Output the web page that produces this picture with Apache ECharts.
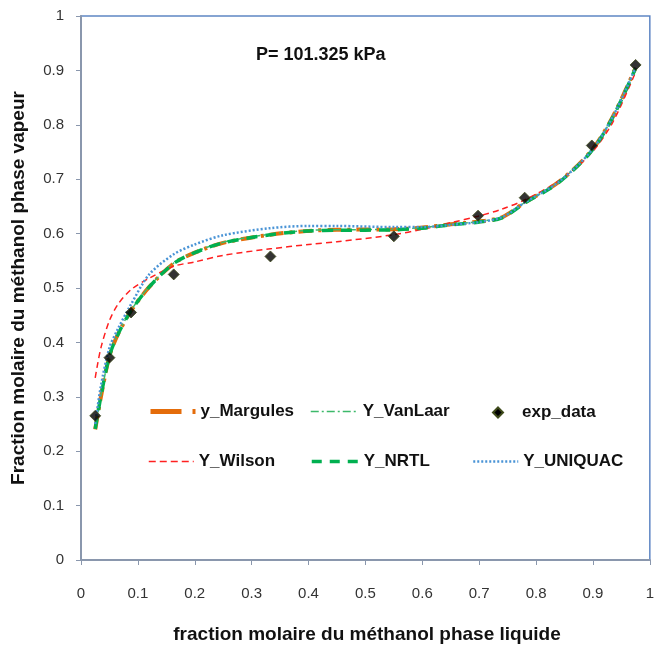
<!DOCTYPE html>
<html><head><meta charset="utf-8">
<script src="https://cdn.jsdelivr.net/npm/echarts@6/dist/echarts.min.js"></script>
<style>html,body{margin:0;padding:0;background:#fff}#c{width:657px;height:650px}</style>
</head><body><div id="c"></div>
<script>
// ---- data ----
const expX = [0.025, 0.05, 0.088, 0.163, 0.333, 0.55, 0.698, 0.78, 0.898, 0.975];
const expY = [0.265, 0.372, 0.455, 0.525, 0.558, 0.595, 0.633, 0.666, 0.762, 0.910];

const modelX    = [0.025, 0.035, 0.05, 0.065, 0.088, 0.12, 0.163, 0.2, 0.25, 0.333, 0.4, 0.45, 0.55, 0.6, 0.65, 0.698, 0.74, 0.78, 0.84, 0.897, 0.935, 0.975];
const yMargules = [0.240, 0.300, 0.375, 0.415, 0.458, 0.502, 0.545, 0.565, 0.583, 0.598, 0.605, 0.607, 0.608, 0.611, 0.617, 0.622, 0.630, 0.657, 0.695, 0.752, 0.815, 0.905];
const yVanLaar  = [0.242, 0.302, 0.376, 0.416, 0.459, 0.503, 0.546, 0.566, 0.584, 0.599, 0.606, 0.607, 0.608, 0.611, 0.617, 0.622, 0.630, 0.657, 0.695, 0.752, 0.815, 0.905];
const yWilson   = [0.335, 0.390, 0.440, 0.470, 0.497, 0.518, 0.540, 0.548, 0.560, 0.572, 0.580, 0.585, 0.598, 0.608, 0.620, 0.632, 0.645, 0.662, 0.697, 0.748, 0.805, 0.897];
const yNRTL     = [0.241, 0.301, 0.375, 0.415, 0.458, 0.502, 0.545, 0.565, 0.583, 0.598, 0.605, 0.606, 0.607, 0.610, 0.616, 0.621, 0.629, 0.656, 0.694, 0.751, 0.814, 0.904];
const yUNIQUAC  = [0.250, 0.320, 0.390, 0.425, 0.470, 0.525, 0.562, 0.580, 0.597, 0.610, 0.614, 0.614, 0.612, 0.612, 0.616, 0.621, 0.630, 0.657, 0.695, 0.752, 0.815, 0.905];

const axisTicks = [0, 0.1, 0.2, 0.3, 0.4, 0.5, 0.6, 0.7, 0.8, 0.9, 1];
const names = ['y_Margules', 'Y_VanLaar', 'exp_data', 'Y_Wilson', 'Y_NRTL', 'Y_UNIQUAC'];

const pair = (xs, ys) => xs.map((x, i) => [x, ys[i]]);
const FONT = 'Liberation Sans';

function legendAt(name, left, top, w, lineStyle) {
  return {
    data: [name], left: left, top: top, itemWidth: w, itemHeight: 12, itemGap: 0,
    itemStyle: { opacity: 0 },
    lineStyle: lineStyle,
    textStyle: { fontFamily: FONT, fontSize: 17, fontWeight: 'bold', color: '#111' },
    padding: 0
  };
}

const chart = echarts.init(document.getElementById('c'));
chart.setOption({
  animation: false,
  grid: { left: 81, right: 4, top: 16, bottom: 90, show: true, borderColor: '#5F86C4', borderWidth: 1.5 },
  xAxis: {
    type: 'value', min: 0, max: 1, interval: 0.1,
    axisLine: { show: true, lineStyle: { color: '#8A97AD', width: 2 } },
    axisTick: { show: true, length: 5, lineStyle: { color: '#8A97AD' } },
    splitLine: { show: false },
    axisLabel: { margin: 26, fontFamily: FONT, fontSize: 15, color: '#333', formatter: v => String(+v.toFixed(1)) }
  },
  yAxis: {
    type: 'value', min: 0, max: 1, interval: 0.1,
    axisLine: { show: true, lineStyle: { color: '#8A97AD', width: 2 } },
    axisTick: { show: true, length: 5, lineStyle: { color: '#8A97AD' } },
    splitLine: { show: false },
    axisLabel: { margin: 17, fontFamily: FONT, fontSize: 15, color: '#333', formatter: v => String(+v.toFixed(1)) }
  },
  legend: [
    legendAt('y_Margules', 148, 403, 45, { color: '#E46C0A', width: 5, type: [31, 11, 3, 10] }),
    legendAt('Y_VanLaar', 310, 403, 47, { color: '#3CB96A', width: 1.5, type: [8, 3, 2, 3] }),
    Object.assign(legendAt('exp_data', 492, 404, 10), {
      itemHeight: 10, itemStyle: { opacity: 1 }, icon: 'diamond',
      textStyle: { fontFamily: FONT, fontSize: 17, fontWeight: 'bold', color: '#111', padding: [0, 0, 0, 14] }
    }),
    legendAt('Y_Wilson', 148, 453, 45, { color: '#FF2020', width: 1.5, type: [7, 4] }),
    legendAt('Y_NRTL', 310, 453, 47, { color: '#00B050', width: 3.5, type: [10, 8] }),
    legendAt('Y_UNIQUAC', 472, 453, 45, { color: '#4A94D6', width: 2.5, type: [2, 2] })
  ],
  graphic: [
    { type: 'text', left: 256, top: 46, style: { text: 'P= 101.325 kPa', fontFamily: FONT, fontSize: 18, fontWeight: 'bold', fill: '#111' } },
    { type: 'text', x: 367, y: 635, style: { text: 'fraction molaire du méthanol phase liquide', fontFamily: FONT, fontSize: 19, fontWeight: 'bold', fill: '#111', align: 'center', verticalAlign: 'middle' } },
    { type: 'text', x: 19, y: 288, rotation: Math.PI / 2, style: { text: 'Fraction molaire du méthanol phase vapeur', fontFamily: FONT, fontSize: 19, fontWeight: 'bold', fill: '#111', align: 'center', verticalAlign: 'middle' } }
  ],
  series: [
    { name: 'y_Margules', type: 'line', smooth: 0.3, showSymbol: false, symbol: 'none', data: pair(modelX, yMargules),
      lineStyle: { color: '#E46C0A', width: 4, type: [14, 6, 3, 6] }, itemStyle: { color: '#E46C0A' }, z: 2 },
    { name: 'Y_VanLaar', type: 'line', smooth: 0.3, showSymbol: false, symbol: 'none', data: pair(modelX, yVanLaar),
      lineStyle: { color: '#3CB96A', width: 1.5, type: [8, 3, 2, 3] }, itemStyle: { color: '#3CB96A' }, z: 3 },
    { name: 'exp_data', type: 'scatter', symbol: 'diamond', symbolSize: 11, data: pair(expX, expY),
      itemStyle: { color: '#000', borderColor: '#3E4A1A', borderWidth: 1 }, z: 10 },
    { name: 'Y_Wilson', type: 'line', smooth: 0.3, showSymbol: false, symbol: 'none', data: pair(modelX, yWilson),
      lineStyle: { color: '#FF2020', width: 1.5, type: [6, 4] }, itemStyle: { color: '#FF2020' }, z: 4 },
    { name: 'Y_NRTL', type: 'line', smooth: 0.3, showSymbol: false, symbol: 'none', data: pair(modelX, yNRTL),
      lineStyle: { color: '#00B050', width: 3.5, type: [11, 8] }, itemStyle: { color: '#00B050' }, z: 5 },
    { name: 'Y_UNIQUAC', type: 'line', smooth: 0.3, showSymbol: false, symbol: 'none', data: pair(modelX, yUNIQUAC),
      lineStyle: { color: '#4A94D6', width: 2.5, type: [2, 2] }, itemStyle: { color: '#4A94D6' }, z: 6 }
  ]
});
</script></body></html>
